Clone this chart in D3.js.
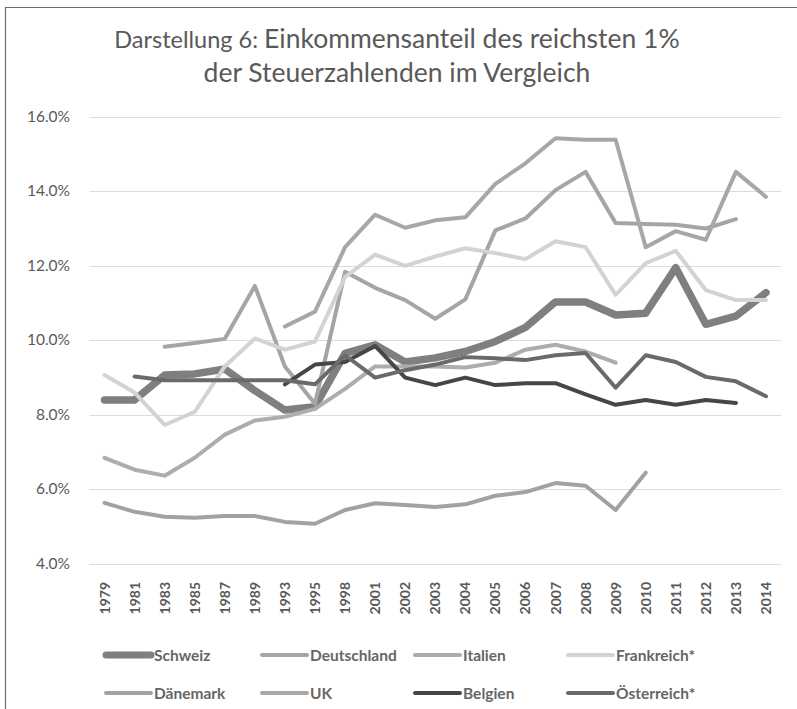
<!DOCTYPE html>
<html>
<head>
<meta charset="utf-8">
<script src="https://cdn.jsdelivr.net/npm/d3@7"></script>
<style>
  body { margin: 0; background: #fff; }
  svg { font-family: Lato, "Open Sans", sans-serif; }
</style>
</head>
<body>
<svg></svg>
<script>
width = 797;
height = 709;

years = ["1979","1981","1983","1985","1987","1989","1993","1995","1998","2001","2002","2003",
  "2004","2005","2006","2007","2008","2009","2010","2011","2012","2013","2014"];

schweiz = [8.4, 8.4, 9.07, 9.1, 9.23, 8.65, 8.13, 8.22, 9.65, 9.88, 9.42, 9.53, 9.7, 9.97, 10.35, 11.03, 11.03, 10.68, 10.73, 11.95, 10.43, 10.65, 11.28];
deutschland = [null, null, 9.83, 9.93, 10.04, 11.46, 9.3, 8.3, 11.84, 11.41, 11.08, 10.58, 11.1, 12.95, 13.27, 14.03, 14.52, 13.15, 13.12, 13.1, 13.0, 13.25, null];
italien = [6.85, 6.53, 6.37, 6.85, 7.47, 7.85, 7.95, 8.16, 8.7, 9.3, 9.3, 9.3, 9.27, 9.4, 9.75, 9.88, 9.7, 9.4, null, null, null, null, null];
frankreich = [9.07, 8.6, 7.73, 8.08, 9.3, 10.05, 9.75, 9.97, 11.7, 12.3, 12.0, 12.25, 12.47, 12.34, 12.18, 12.66, 12.5, 11.22, 12.07, 12.4, 11.35, 11.08, 11.08];
daenemark = [5.64, 5.4, 5.27, 5.24, 5.29, 5.29, 5.13, 5.08, 5.45, 5.63, 5.58, 5.53, 5.6, 5.83, 5.93, 6.17, 6.1, 5.45, 6.45, null, null, null, null];
uk = [null, null, null, null, null, null, 10.37, 10.77, 12.5, 13.37, 13.02, 13.22, 13.3, 14.2, 14.75, 15.42, 15.38, 15.38, 12.5, 12.93, 12.7, 14.52, 13.85];
belgien = [null, null, null, null, null, null, 8.82, 9.35, 9.42, 9.85, 9.0, 8.8, 9.0, 8.8, 8.85, 8.85, 8.55, 8.27, 8.4, 8.27, 8.4, 8.32, null];
oesterreich = [null, 9.03, 8.93, 8.93, 8.93, 8.93, 8.93, 8.82, 9.6, 9.0, 9.2, 9.35, 9.55, 9.52, 9.47, 9.6, 9.66, 8.73, 9.6, 9.42, 9.02, 8.9, 8.5];

yTicks = [4, 6, 8, 10, 12, 14, 16];

series = [
  { name: "Schweiz", values: schweiz, color: "#7f7f7f", w: 7.5 },
  { name: "Deutschland", values: deutschland, color: "#a5a5a5", w: 4 },
  { name: "Italien", values: italien, color: "#adadad", w: 4 },
  { name: "Frankreich*", values: frankreich, color: "#d3d3d3", w: 4 },
  { name: "Dänemark", values: daenemark, color: "#a2a2a2", w: 4 },
  { name: "UK", values: uk, color: "#a7a7a7", w: 4 },
  { name: "Belgien", values: belgien, color: "#464646", w: 4 },
  { name: "Österreich*", values: oesterreich, color: "#6a6a6a", w: 4 }
];

svg = d3.select('svg')
  .attr('width', width)
  .attr('height', height);

// frame
svg.append('path')
  .attr('d', `M5.5,${height} V7.5 H${width}`)
  .attr('fill', 'none')
  .attr('stroke', '#6e6e6e')
  .attr('stroke-width', 1.2);

// title
title = svg.append('text')
  .attr('text-anchor', 'middle')
  .attr('fill', '#595959');
t1 = title.append('tspan').attr('x', 397).attr('y', 48);
t1.append('tspan').attr('font-size', 23.5).text('Darstellung 6: ');
t1.append('tspan').attr('font-size', 26.5).text('Einkommensanteil des reichsten 1%');
title.append('tspan').attr('x', 397).attr('y', 82).attr('font-size', 26.5)
  .text('der Steuerzahlenden im Vergleich');

x = d3.scalePoint().domain(years).range([89.5, 781]).padding(0.5);
y = d3.scaleLinear().domain([4, 16]).range([564, 116.7]);

// gridlines
svg.append('g')
  .selectAll('line')
  .data(yTicks)
  .enter().append('line')
  .attr('x1', 89.5)
  .attr('x2', 781)
  .attr('y1', d => Math.round(y(d)) + 0.5)
  .attr('y2', d => Math.round(y(d)) + 0.5)
  .attr('stroke', '#dcdcdc')
  .attr('stroke-width', 1.2);

// y labels
svg.append('g')
  .selectAll('text')
  .data(yTicks)
  .enter().append('text')
  .attr('x', 70)
  .attr('y', d => y(d) + 5)
  .attr('text-anchor', 'end')
  .attr('font-size', 15.5)
  .attr('fill', '#595959')
  .text(d => d3.format('.1f')(d) + '%');

// x labels
svg.append('g')
  .selectAll('text')
  .data(years)
  .enter().append('text')
  .attr('transform', d => `translate(${x(d) + 5},582) rotate(-90)`)
  .attr('text-anchor', 'end')
  .attr('font-size', 14)
  .attr('font-weight', 'bold')
  .attr('fill', '#595959')
  .text(d => d);

line = d3.line()
  .defined(d => d != null)
  .x((d, i) => x(years[i]))
  .y(d => y(d));

svg.append('g')
  .selectAll('path')
  .data(series)
  .enter().append('path')
  .attr('d', d => line(d.values))
  .attr('fill', 'none')
  .attr('stroke', d => d.color)
  .attr('stroke-width', d => d.w)
  .attr('stroke-linejoin', 'round')
  .attr('stroke-linecap', 'round');

// legend
legX = [106, 262, 415, 568];
legY = [655, 693];
leg = svg.append('g')
  .selectAll('g')
  .data(series)
  .enter().append('g')
  .attr('transform', (d, i) => `translate(${legX[i % 4]},${legY[Math.floor(i / 4)]})`);
leg.append('line')
  .attr('x1', 0)
  .attr('x2', 45)
  .attr('stroke', d => d.color)
  .attr('stroke-width', d => d.w === 7.5 ? 7 : 4)
  .attr('stroke-linecap', 'round');
leg.append('text')
  .attr('x', 48)
  .attr('y', 5.5)
  .attr('font-size', 15.5)
  .attr('font-weight', 'bold')
  .attr('fill', '#666')
  .text(d => d.name);
</script>
</body>
</html>
